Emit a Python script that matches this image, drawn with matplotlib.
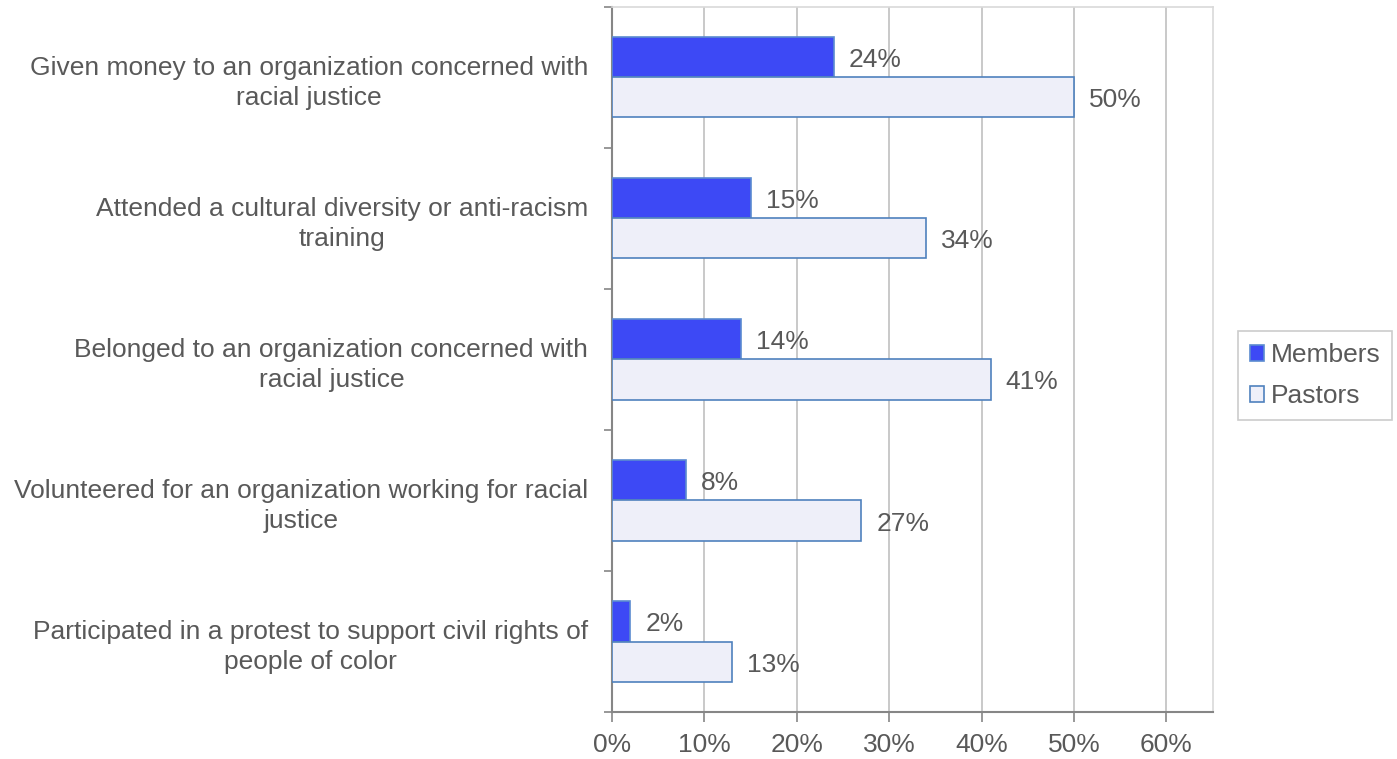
import matplotlib.pyplot as plt
import numpy as np

plt.rcParams['font.family'] = ['Liberation Sans', 'DejaVu Sans']

categories = [
    "Given money to an organization concerned with\nracial justice",
    "Attended a cultural diversity or anti-racism\ntraining",
    "Belonged to an organization concerned with\nracial justice",
    "Volunteered for an organization working for racial\njustice",
    "Participated in a protest to support civil rights of\npeople of color",
]
members = [24, 15, 14, 8, 2]
pastors = [50, 34, 41, 27, 13]
xticks = [0, 10, 20, 30, 40, 50, 60]

text_c = '#595959'
axis_c = '#868686'
fs = 19

fig = plt.figure(figsize=(13.97, 7.59), dpi=100)
ax = fig.add_axes([0.438, 0.0619, 0.430, 0.929])

y = np.arange(len(categories))
h = 0.284
b1 = ax.barh(y - h / 2, members, height=h, color='#3D49F5', edgecolor='#5B8BD0',
             linewidth=1.2, label='Members', zorder=3)
b2 = ax.barh(y + h / 2, pastors, height=h, color='#EEEFF9', edgecolor='#4F81BD',
             linewidth=1.2, label='Pastors', zorder=3)

# value labels just past the end of each bar
for bars, vals in ((b1, members), (b2, pastors)):
    for bar, v in zip(bars, vals):
        ax.annotate(f'{v}%', (v, bar.get_y() + bar.get_height() / 2),
                    xytext=(15, -3), textcoords='offset pixels',
                    va='center', ha='left', fontsize=fs, color=text_c, zorder=4)

ax.set_xlim(0, 65)
ax.set_ylim(len(categories) - 0.5, -0.5)
ax.set_xticks(xticks)
ax.set_xticklabels([f'{t}%' for t in xticks])
ax.set_yticks(y)
ax.set_yticklabels(categories, ma='center', linespacing=1.3)
ax.set_yticks(np.arange(len(categories) + 1) - 0.5, minor=True)

ax.tick_params(axis='x', colors=axis_c, labelcolor=text_c, labelsize=fs,
               length=7, width=1.2, pad=8)
ax.tick_params(axis='y', which='major', length=0, labelcolor=text_c,
               labelsize=fs, pad=17)
ax.tick_params(axis='y', which='minor', length=6, width=1.2, colors=axis_c)

ax.grid(axis='x', color='#C0C0C0', linewidth=1.2, zorder=0)
ax.xaxis.get_gridlines()[0].set_visible(False)
for side in ('left', 'bottom'):
    ax.spines[side].set_color(axis_c)
    ax.spines[side].set_linewidth(1.5)
for side in ('top', 'right'):
    ax.spines[side].set_color('#D9D9D9')
    ax.spines[side].set_linewidth(1.2)

leg = fig.legend(handles=[b1, b2], loc='center left', bbox_to_anchor=(0.886, 0.505),
                 fontsize=fs, frameon=True, fancybox=False, handlelength=0.55,
                 handleheight=0.55, handletextpad=0.25, labelspacing=0.65,
                 borderpad=0.45, borderaxespad=0, labelcolor=text_c)
leg.get_frame().set_edgecolor('#BFBFBF')
leg.get_frame().set_linewidth(1.2)

fig.savefig('out.png', dpi=100)
